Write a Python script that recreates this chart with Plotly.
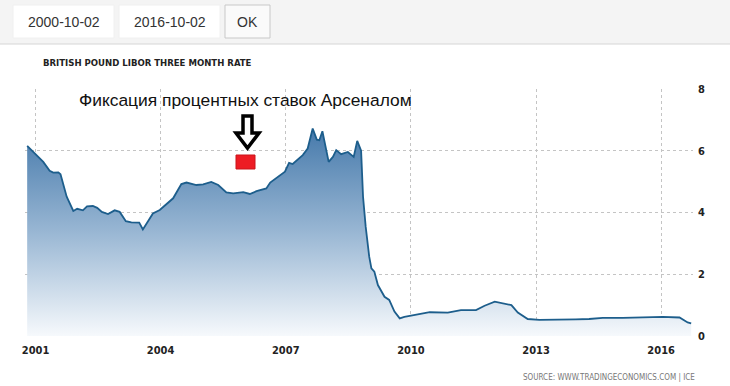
import plotly.graph_objects as go

# ---------------- data ----------------
dates = [
    "2000-10-20", "2001-01-10", "2001-03-10", "2001-05-05", "2001-06-05", "2001-07-20",
    "2001-08-08", "2001-10-01", "2001-11-28", "2002-01-01", "2002-02-20", "2002-03-28",
    "2002-05-18", "2002-06-25", "2002-08-05", "2002-09-28", "2002-11-25", "2003-01-08",
    "2003-03-03", "2003-04-20", "2003-06-28", "2003-07-30", "2003-09-12", "2003-10-26",
    "2003-12-25", "2004-02-20", "2004-04-20", "2004-07-01", "2004-08-15", "2004-11-10",
    "2005-01-08", "2005-03-20", "2005-05-20", "2005-07-30", "2005-09-28", "2005-12-25",
    "2006-02-20", "2006-04-20", "2006-07-15", "2006-08-18", "2006-11-10", "2006-12-25",
    "2007-01-30", "2007-03-03", "2007-05-30", "2007-07-12", "2007-08-25", "2007-09-30",
    "2007-10-22", "2007-11-18", "2008-01-12", "2008-02-18", "2008-03-18", "2008-04-30",
    "2008-06-28", "2008-08-18", "2008-09-18", "2008-10-22", "2008-11-08", "2008-12-01",
    "2009-01-01", "2009-01-20", "2009-02-15", "2009-03-18", "2009-05-15", "2009-06-25",
    "2009-08-10", "2009-09-25", "2009-11-05", "2010-02-15", "2010-06-15", "2010-11-20",
    "2011-03-15", "2011-07-25", "2011-10-08", "2012-01-05", "2012-03-03", "2012-05-30",
    "2012-07-25", "2012-10-20", "2013-01-30", "2013-06-25", "2013-12-15", "2014-04-10",
    "2014-08-08", "2015-01-30", "2015-07-22", "2016-01-15", "2016-06-10", "2016-08-20",
    "2016-09-20",
]
rates = [
    6.16, 5.86, 5.64, 5.35, 5.29, 5.30,
    5.24, 4.51, 4.05, 4.12, 4.07, 4.20,
    4.21, 4.15, 4.02, 3.95, 4.07, 4.02,
    3.72, 3.68, 3.67, 3.45, 3.70, 3.97,
    4.08, 4.27, 4.46, 4.92, 4.97, 4.89,
    4.91, 4.99, 4.89, 4.65, 4.62, 4.66,
    4.60, 4.69, 4.78, 4.97, 5.21, 5.32,
    5.61, 5.57, 5.86, 6.07, 6.72, 6.36,
    6.34, 6.63, 5.64, 5.80, 6.02, 5.89,
    5.96, 5.80, 6.32, 6.00, 4.51, 3.54,
    2.57, 2.19, 2.08, 1.65, 1.27, 1.17,
    0.79, 0.57, 0.62, 0.68, 0.77, 0.76,
    0.84, 0.84, 0.98, 1.11, 1.06, 1.00,
    0.76, 0.55, 0.52, 0.52, 0.54, 0.55,
    0.59, 0.59, 0.61, 0.62, 0.60, 0.44,
    0.41,
]
x_tick_vals = ["2001-01-01", "2004-01-01", "2007-01-01", "2010-01-01", "2013-01-01", "2016-01-01"]
x_tick_text = ["2001", "2004", "2007", "2010", "2013", "2016"]
y_tick_vals = [0, 2, 4, 6, 8]
x_range = ["2000-10-01", "2016-10-06"]
y_range = [0, 8]

chart_title = "BRITISH POUND LIBOR THREE MONTH RATE"
note_text = "Фиксация процентных ставок Арсеналом"
source_text = "SOURCE: WWW.TRADINGECONOMICS.COM | ICE"
date_from = "2000-10-02"
date_to = "2016-10-02"

# ---------------- layout geometry ----------------
W, H = 730, 386
ML, MR, MT, MB = 25, 37, 89, 50
PW, PH = W - ML - MR, H - MT - MB


def px(x):
    return (x - ML) / PW


def py(y):
    return (H - MB - y) / PH


COND = "Liberation Sans Narrow, DejaVu Sans Condensed, Arial Narrow, sans-serif"

fig = go.Figure()
fig.add_trace(go.Scatter(
    x=dates, y=rates, mode="lines",
    line=dict(color="#1d5e8c", width=1.8),
    fill="tozeroy",
    fillgradient=dict(type="vertical", start=0, stop=6.8,
                      colorscale=[[0, "rgba(246,249,252,1)"], [0.5, "#98b6d3"], [1, "#4478aa"]]),
    hoverinfo="x+y", showlegend=False,
))

shapes = []
annotations = []

# header band
shapes.append(dict(type="rect", xref="paper", yref="paper", x0=px(0), x1=px(W), y0=py(44), y1=py(0),
                   fillcolor="#f4f4f4", line=dict(width=0), layer="below"))
shapes.append(dict(type="line", xref="paper", yref="paper", x0=px(0), x1=px(W), y0=py(44), y1=py(44),
                   line=dict(color="#d6d6d6", width=1)))
for (x0, x1, border, fillc) in [(13, 114, "#f0f0f0", "#ffffff"), (119, 220, "#f0f0f0", "#ffffff"),
                                (225, 270, "#c8c8c8", "#fafafa")]:
    shapes.append(dict(type="rect", xref="paper", yref="paper", x0=px(x0), x1=px(x1), y0=py(38), y1=py(5),
                       fillcolor=fillc, line=dict(color=border, width=1)))
for (cx, t) in [(63.5, date_from), (169.5, date_to), (247.5, "OK")]:
    annotations.append(dict(xref="paper", yref="paper", x=px(cx), y=py(22), text=t, showarrow=False,
                            xanchor="center", yanchor="middle",
                            font=dict(family="Liberation Sans, Arial, sans-serif", size=14, color="#333333")))

# title
annotations.append(dict(xref="paper", yref="paper", x=px(41), y=py(63), text="<b>" + chart_title + "</b>",
                        showarrow=False, xanchor="left", yanchor="middle",
                        font=dict(family=COND, size=9.5, color="#222222")))
# note text
annotations.append(dict(xref="paper", yref="paper", x=px(77), y=py(100), text=note_text, showarrow=False,
                        xanchor="left", yanchor="middle",
                        font=dict(family="Liberation Sans, Arial, sans-serif", size=17.4, color="#111111")))
# source
annotations.append(dict(xref="paper", yref="paper", x=px(697), y=py(377), text=source_text, showarrow=False,
                        xanchor="right", yanchor="middle",
                        font=dict(family=COND, size=8, color="#777777")))

# outline arrow
pts = [(243, 116), (252, 116), (252, 133), (259, 133), (247.5, 148), (236, 133), (243, 133)]
path = "M " + " L ".join(f"{px(a):.5f},{py(b):.5f}" for a, b in pts) + " Z"
shapes.append(dict(type="path", xref="paper", yref="paper", path=path,
                   fillcolor="#ffffff", line=dict(color="#000000", width=3.5)))
# red box
shapes.append(dict(type="rect", xref="paper", yref="paper", x0=px(236), x1=px(255), y0=py(169), y1=py(155),
                   fillcolor="#ed1c24", line=dict(color="#c9141b", width=1)))

fig.update_layout(
    width=W, height=H, margin=dict(l=ML, r=MR, t=MT, b=MB, pad=0),
    paper_bgcolor="#ffffff", plot_bgcolor="#ffffff",
    shapes=shapes, annotations=annotations,
    xaxis=dict(type="date", range=x_range, tickvals=x_tick_vals,
               ticktext=["<b>" + t + "</b>" for t in x_tick_text],
               showgrid=True, gridcolor="#c4c4c4", griddash="dot", gridwidth=1,
               zeroline=False, showline=False, ticks="", ticklabelstandoff=6,
               tickfont=dict(family=COND, size=11, color="#222222")),
    yaxis=dict(range=y_range, tickvals=y_tick_vals, ticktext=[f"<b>{v}</b>" for v in y_tick_vals],
               side="right",
               showgrid=True, gridcolor="#c4c4c4", griddash="dot", gridwidth=1,
               zeroline=False, showline=False, ticks="", ticklabelstandoff=4,
               tickfont=dict(family=COND, size=11, color="#222222")),
)

fig.write_html("out.html")
